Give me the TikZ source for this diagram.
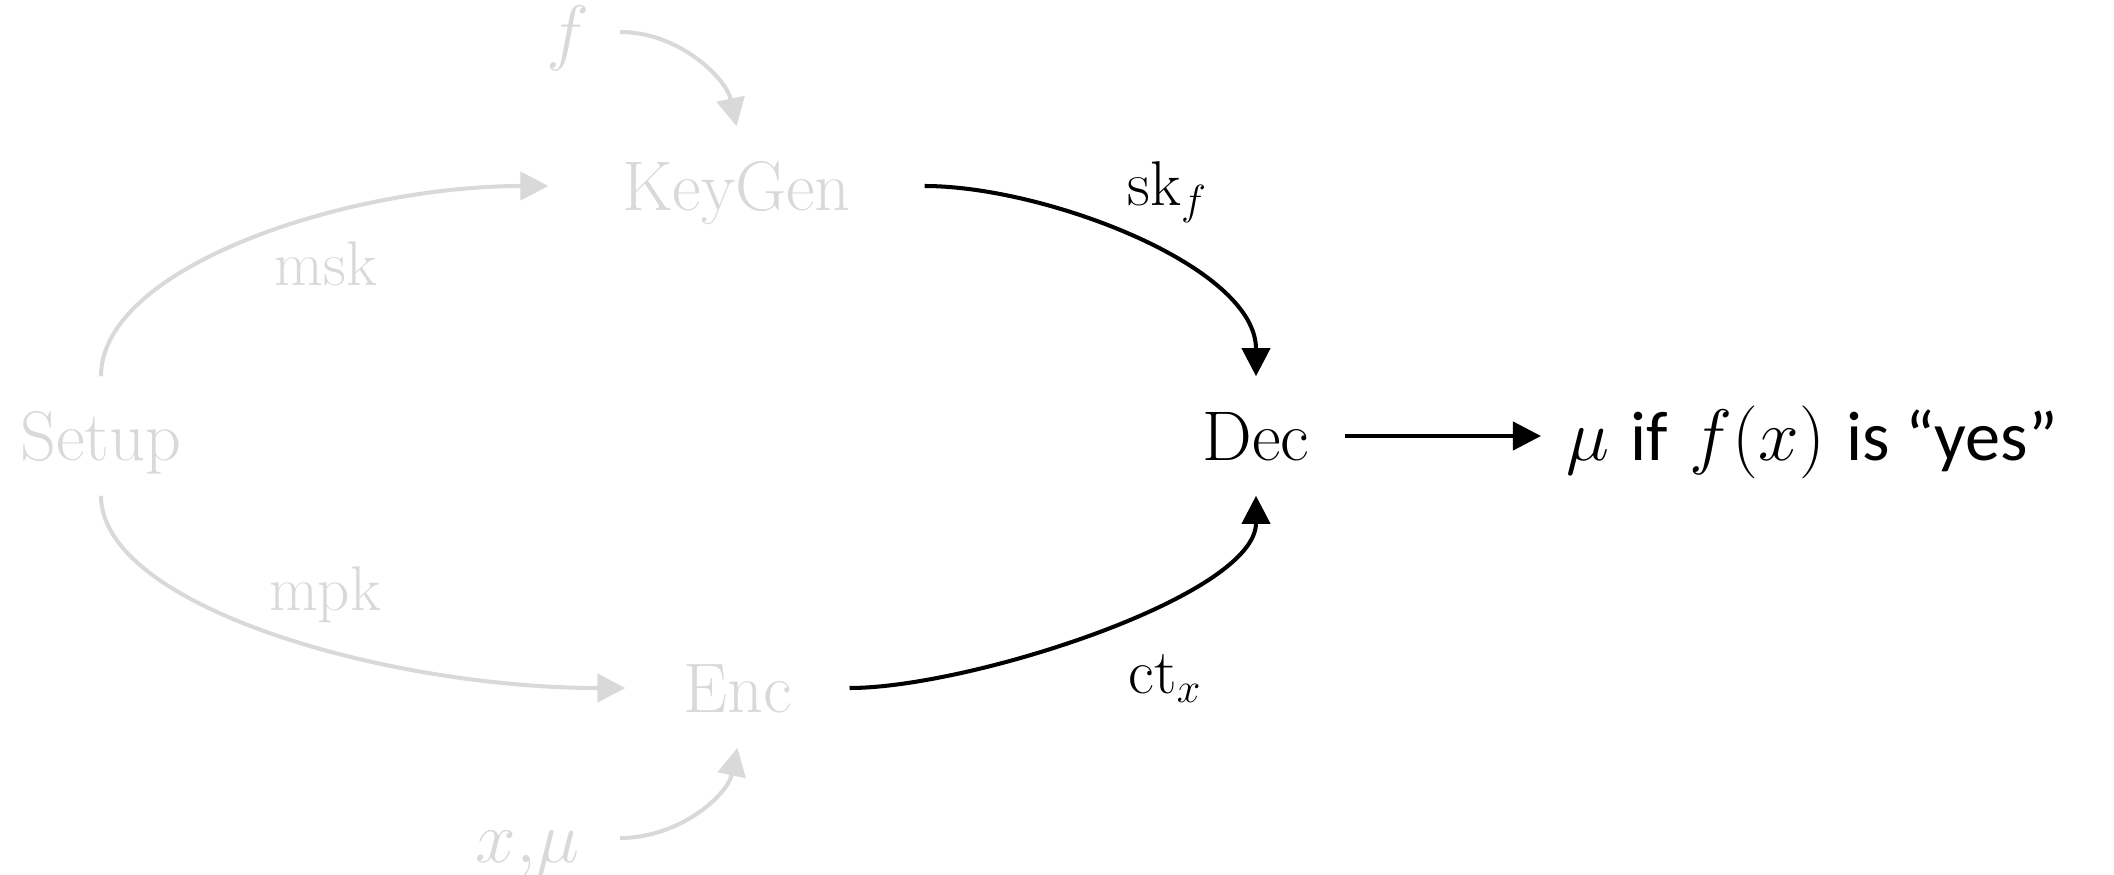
\documentclass[tikz,border=0pt]{standalone}
\usepackage{fontspec}
\newfontfamily\calibri{Carlito}
\usetikzlibrary{arrows.meta,positioning}
\definecolor{lightgrey}{RGB}{217,217,217}

\begin{document}
\begin{tikzpicture}[
    algo/.style={font=\fontsize{20}{24}\selectfont, text height=13.7pt, text depth=0pt, inner xsep=0.35cm, inner ysep=0.35cm},
    faded/.style={text=lightgrey},
    lbl/.style={font=\fontsize{18}{22}\selectfont, inner sep=0pt},
    arrow/.style={-{Triangle[length=8pt,width=8pt]}, line width=1.15pt},
    greyarrow/.style={arrow, draw=lightgrey}
]
    \useasboundingbox (0,0) rectangle (21.14,8.74);

    % algorithms
    \node[algo, faded] (setup) at (1.01,4.38) {Setup};
    \node[algo, faded, inner xsep=0.73cm] (keygen) at (7.365,6.88) {KeyGen};
    \node[algo, faded, inner xsep=0.57cm] (enc) at (7.375,1.86) {Enc};
    \node[algo] (dec) at (12.56,4.38) {Dec};
    \node[algo, anchor=west, inner xsep=0.25cm] (out) at (15.41,4.38) {$\mu$ {\calibri if} $f(x)$ {\calibri is “yes”}};

    % inputs
    \node[algo, faded, anchor=east, inner xsep=0.3cm] (fin) at (6.20,8.42) {$f$};
    \node[algo, faded, anchor=east, inner xsep=0.4cm] (xin) at (6.20,0.36) {$x{,}\mu$};

    % keys and ciphertext
    \node[lbl, faded, anchor=base] (msk) at (3.26,5.89) {msk};
    \node[lbl, faded, anchor=base] (mpk) at (3.25,2.64) {mpk};
    \node[lbl, anchor=base west] (skf) at (11.27,6.69) {sk$_f$};
    \node[lbl, anchor=base west] (ctx) at (11.28,1.81) {ct$_x$};

    \draw[greyarrow] (setup.north) .. controls +(0,1.1) and +(-2,0) .. (keygen.west);
    \draw[greyarrow] (setup.south) .. controls +(0,-1.1) and +(-2.4,0) .. (enc.west);
    \draw[greyarrow] (fin.east) .. controls +(0.6,0) and +(-0.1,0.47) .. (keygen.north);
    \draw[greyarrow] (xin.east) .. controls +(0.6,0) and +(-0.1,-0.47) .. (enc.south);

    \draw[arrow] (keygen.east) .. controls +(1.2,0) and +(0,1.1) .. (dec.north);
    \draw[arrow] (enc.east) .. controls +(1.2,0) and +(0,-1.0) .. (dec.south);
    \draw[arrow] (dec) -- (out);
\end{tikzpicture}
\end{document}
